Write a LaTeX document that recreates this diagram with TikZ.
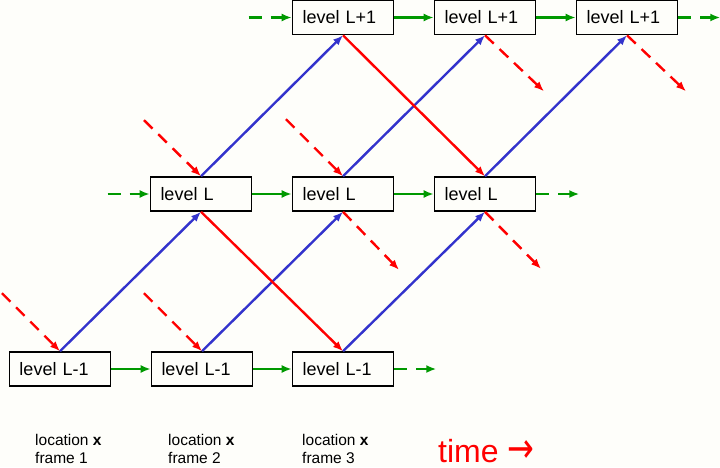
\documentclass[tikz,border=0pt]{standalone}
\usepackage{fontspec}
\setmainfont{Liberation Sans}
\newfontfamily\arrowfont{DejaVu Sans}
\usepackage{xcolor}
\usepackage{tikz}
\usetikzlibrary{arrows.meta, positioning, calc}
\definecolor{upc}{RGB}{51,51,204}
\definecolor{downc}{RGB}{255,0,0}
\definecolor{nextc}{RGB}{0,153,0}
\definecolor{paper}{RGB}{254,254,250}

\begin{document}
\begin{tikzpicture}[x=1pt, y=-1pt,
    lvl/.style={draw, line width=1.6pt, text width=81pt, inner xsep=10pt,
      minimum height=34pt, align=left, font=\fontsize{18}{21}\selectfont},
    vec/.style={-{Latex[length=10pt, width=8pt]}, line width=2.4pt},
    skip/.style={vec, dash pattern=on 12pt off 8pt},
    gskip/.style={vec, dash pattern=on 13pt off 9pt},
    frametext/.style={anchor=north west, inner sep=0pt, align=left,
      font=\fontsize{15.5}{18}\selectfont}]
  \fill[paper] (0,0) rectangle (720,467);
  \useasboundingbox (0,0) rectangle (720,467);
  % levels
  \node[lvl] (low1) at (60,369) {level L-1};
  \node[lvl] (low2) at (202,369) {level L-1};
  \node[lvl] (low3) at (343,369) {level L-1};
  \node[lvl] (mid1) at (201,194) {level L};
  \node[lvl] (mid2) at (343,194) {level L};
  \node[lvl] (mid3) at (485,194) {level L};
  \node[lvl] (top1) at (343,17.5) {level L+1};
  \node[lvl] (top2) at (485,17.5) {level L+1};
  \node[lvl] (top3) at (627,17.5) {level L+1};
  % free ends
  \coordinate (in1) at ($(low1.north)+(-58,-58)$);
  \coordinate (in2) at ($(low2.north)+(-58,-58)$);
  \coordinate (in3) at ($(mid1.north)+(-57,-56)$);
  \coordinate (in4) at ($(mid2.north)+(-57,-57)$);
  \coordinate (out1) at ($(mid2.south)+(56,58)$);
  \coordinate (out2) at ($(mid3.south)+(56,57)$);
  \coordinate (out3) at ($(top2.south)+(59,56)$);
  \coordinate (out4) at ($(top3.south)+(59,56)$);
  \coordinate (gin1) at ($(mid1.west)+(-42,0)$);
  \coordinate (gin2) at ($(top1.west)+(-43,0)$);
  \coordinate (gout1) at ($(low3.east)+(42,0)$);
  \coordinate (gout2) at ($(mid3.east)+(43,0)$);
  \coordinate (gout3) at ($(top3.east)+(42,0)$);
  % up
  \draw[vec, upc] (low1.north) -- (mid1.south);
  \draw[vec, upc] (low2.north) -- (mid2.south);
  \draw[vec, upc] (low3.north) -- (mid3.south);
  \draw[vec, upc] (mid1.north) -- (top1.south);
  \draw[vec, upc] (mid2.north) -- (top2.south);
  \draw[vec, upc] (mid3.north) -- (top3.south);
  % down
  \draw[vec, downc] (top1.south) -- (mid3.north);
  \draw[vec, downc] (mid1.south) -- (low3.north);
  \draw[skip, downc] (in1) -- (low1.north);
  \draw[skip, downc] (in2) -- (low2.north);
  \draw[skip, downc] (in3) -- (mid1.north);
  \draw[skip, downc] (in4) -- (mid2.north);
  \draw[skip, downc] (mid2.south) -- (out1);
  \draw[skip, downc] (mid3.south) -- (out2);
  \draw[skip, downc] (top2.south) -- (out3);
  \draw[skip, downc] (top3.south) -- (out4);
  % next frame
  \draw[vec, nextc] (low1) -- (low2);
  \draw[vec, nextc] (low2) -- (low3);
  \draw[vec, nextc] (mid1) -- (mid2);
  \draw[vec, nextc] (mid2) -- (mid3);
  \draw[vec, nextc] (top1) -- (top2);
  \draw[vec, nextc] (top2) -- (top3);
  \draw[gskip, nextc] (gin1) -- (mid1.west);
  \draw[gskip, nextc] (gin2) -- (top1.west);
  \draw[gskip, nextc] (low3.east) -- (gout1);
  \draw[gskip, nextc] (mid3.east) -- (gout2);
  \draw[gskip, nextc] (top3.east) -- (gout3);
  % captions
  \node[frametext] (cap1) at (35,434) {location \textbf{x}\\frame 1};
  \node[frametext] (cap2) at (168,434) {location \textbf{x}\\frame 2};
  \node[frametext] (cap3) at (302,434) {location \textbf{x}\\frame 3};
  \node[anchor=base west, inner sep=0pt, text=downc, font=\fontsize{32}{34}\selectfont] (time) at (438,462) {time {\arrowfont\scalebox{1}[1.3]{→}}};
\end{tikzpicture}
\end{document}
